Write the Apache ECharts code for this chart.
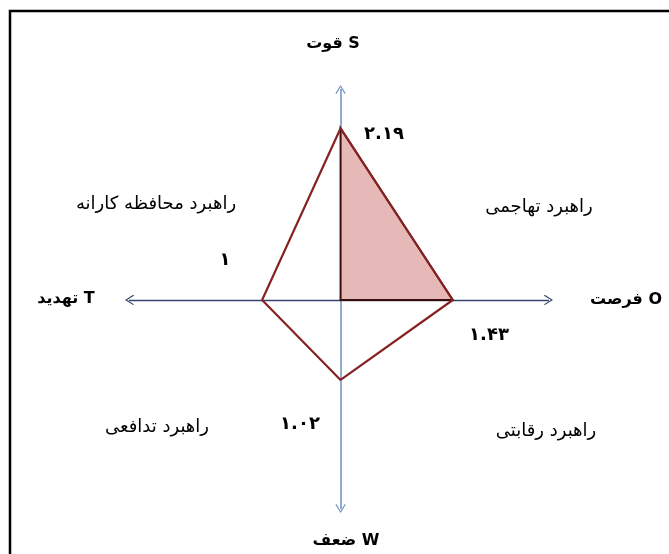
<!DOCTYPE html>
<html>
<head>
<meta charset="utf-8">
<title>SWOT</title>
<script src="https://cdn.jsdelivr.net/npm/echarts@6/dist/echarts.min.js"></script>
</head>
<body style="margin:0;padding:0;background:#fff">
<div id="chart" style="width:669px;height:554px;"></div>
<script type="text/javascript">
// data
var axisNames = ['قوت S', 'فرصت O', 'ضعف W', 'تهدید T'];
var scores = [2.19, 1.43, 1.02, 1];   // S, O, W, T
var quadrantNames = ['راهبرد تهاجمی', 'راهبرد محافظه کارانه', 'راهبرد تدافعی', 'راهبرد رقابتی'];
var xRange = [-2.69, 2.65];
var yRange = [-2.66, 2.685];

var faDigits = '۰۱۲۳۴۵۶۷۸۹';
function toFa(v) {
    return String(v).replace(/[0-9]/g, function (d) { return faDigits[+d]; });
}

var S = scores[0], O = scores[1], W = scores[2], T = scores[3];
var diamond = [[0, S], [O, 0], [0, -W], [-T, 0], [0, S]];
var triangle = [[0, 0], [0, S], [O, 0]];

var arrowPath = 'path://M50,0 L100,80 L91,88 L50,20 L9,88 L0,80 Z';
var fa = '"DejaVu Sans", sans-serif';

function txt(text, x, y, size, bold) {
    return {
        type: 'text', x: x, y: y, z: 10,
        style: {
            text: text, align: 'center', verticalAlign: 'middle',
            fontSize: size, fontWeight: bold ? 'bold' : 'normal',
            fontFamily: fa, fill: '#000'
        }
    };
}

var chart = echarts.init(document.getElementById('chart'));
var option = {
    backgroundColor: '#fff',
    animation: false,
    grid: { left: 129.5, right: 120.5, top: 89.5, bottom: 45.5 },
    xAxis: {
        type: 'value', min: xRange[0], max: xRange[1],
        axisLine: {
            onZero: true, symbol: [arrowPath, arrowPath], symbolSize: [11, 9],
            lineStyle: { color: '#34446f', width: 1.3 }
        },
        axisTick: { show: false }, axisLabel: { show: false }, splitLine: { show: false }
    },
    yAxis: {
        type: 'value', min: yRange[0], max: yRange[1],
        axisLine: {
            onZero: true, symbol: [arrowPath, arrowPath], symbolSize: [11, 9],
            lineStyle: { color: '#6f8fc0', width: 1.5 }
        },
        axisTick: { show: false }, axisLabel: { show: false }, splitLine: { show: false }
    },
    series: [{
        type: 'custom',
        data: [0],
        z: 2,
        renderItem: function (params, api) {
            var pts = triangle.map(function (p) { return api.coord(p); });
            return {
                type: 'polygon',
                shape: { points: pts },
                style: { fill: '#e6b8b8', stroke: '#3a0c0c', lineWidth: 2 }
            };
        }
    }, {
        type: 'line',
        data: diamond,
        z: 3,
        showSymbol: false,
        lineStyle: { color: '#862222', width: 2.2 }
    }],
    graphic: [
        { type: 'rect', shape: { x: 10, y: 11, width: 800, height: 700 },
          style: { fill: 'none', stroke: '#000', lineWidth: 2.5 } },
        txt(axisNames[0], 333, 44, 16, true),
        txt(axisNames[1], 626, 300, 16, true),
        txt(axisNames[2], 346, 541, 16, true),
        txt(axisNames[3], 66, 299, 16, true),
        txt(toFa(S), 384, 134, 18, true),
        txt(toFa(O), 489, 335, 18, true),
        txt(toFa(W), 300, 424, 18, true),
        txt(toFa(T), 225, 260, 18, true),
        txt(quadrantNames[0], 539, 207, 18, false),
        txt(quadrantNames[1], 156, 204, 18, false),
        txt(quadrantNames[2], 157, 427, 18, false),
        txt(quadrantNames[3], 546, 431, 18, false)
    ]
};
chart.setOption(option);
</script>
</body>
</html>
